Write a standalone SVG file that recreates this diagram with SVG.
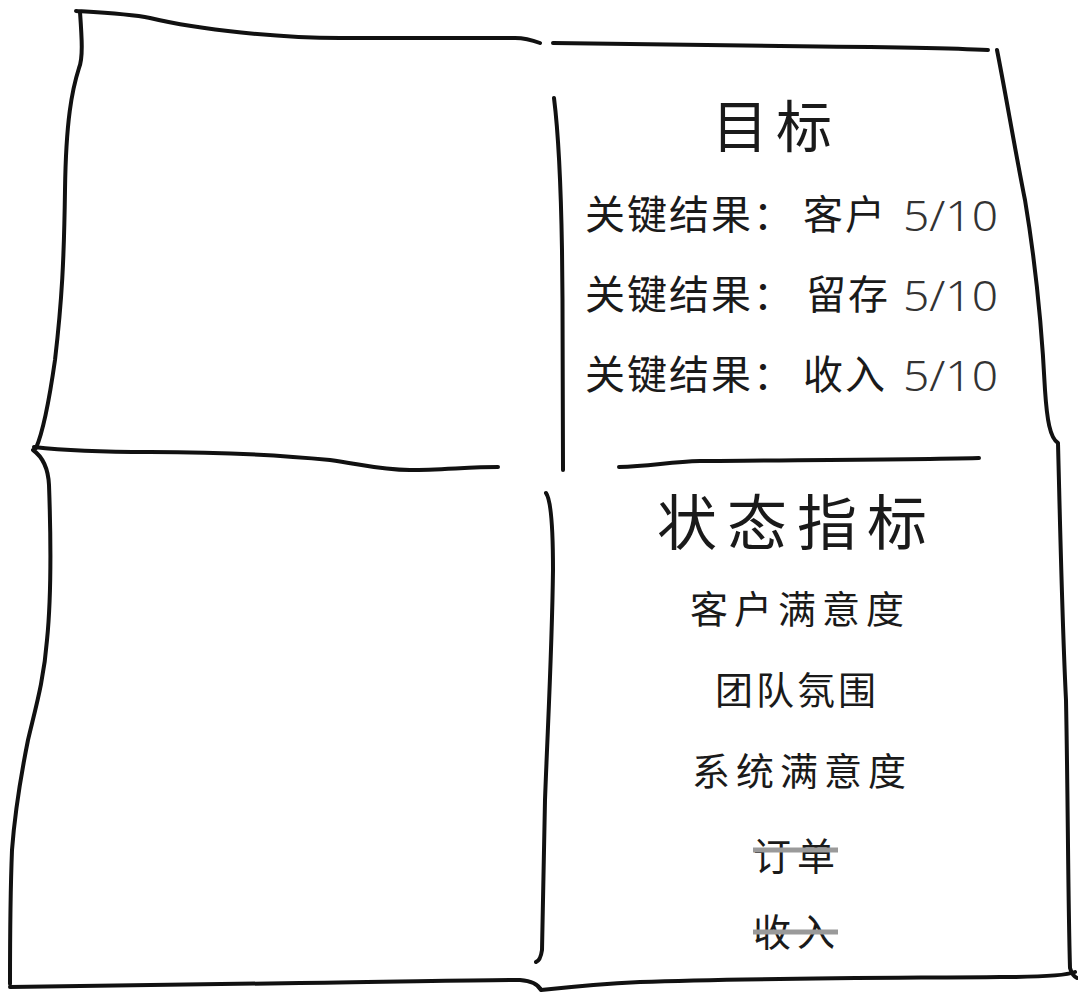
<svg xmlns="http://www.w3.org/2000/svg" width="1078" height="992" viewBox="0 0 1078 992">
<style>
.ln{fill:none;stroke:#111;stroke-width:4;stroke-linecap:round;stroke-linejoin:round}
.t{font-family:"Noto Sans CJK SC","Noto Sans",sans-serif;fill:#1a1a1a}
.k{font-size:40px;letter-spacing:2px}
.n{font-family:"Noto Sans","DejaVu Sans",sans-serif;font-weight:300;fill:#333}
.strike{stroke:#9a9a9a;stroke-width:5}
</style>
<rect width="1078" height="992" fill="#fff"/>
<g id="frame">
<path class="ln" d="M76,11 C110,13 130,14 150,18 C200,30 280,38 340,38 L515,38 C525,38 532,40 540,43"/>
<path class="ln" d="M553,43 L780,46 C880,47 950,48 988,50"/>
<path class="ln" d="M80,12 C82,40 83,58 79,68 C72,90 66,120 65,190 C64,260 62,300 55,360 C50,395 44,430 36,448"/>
<path class="ln" d="M33,450 C40,455 48,465 49,485 C51,540 51,600 47,640 C44,680 35,710 28,740 C20,780 15,810 12,850 C10,900 10,950 10,984"/>
<path class="ln" d="M997,50 C1005,90 1015,150 1025,200 C1035,260 1042,330 1045,390 C1047,420 1050,438 1058,443 C1060,520 1062,620 1066,700 C1068,800 1068,900 1070,968 C1072,975 1075,977 1077,978"/>
<path class="ln" d="M34,447 C60,450 90,452 150,452 C220,452 280,455 330,460 C360,464 380,470 410,470 C440,470 470,467 498,467"/>
<path class="ln" d="M619,467 C650,466 670,462 700,461 C780,460 900,460 979,458"/>
<path class="ln" d="M554,98 C558,130 561,190 562,250 C563,330 563,420 563,470"/>
<path class="ln" d="M546,493 C551,500 553,530 553,570 C552,650 548,720 545,800 C543,880 542,930 542,950 C541,957 539,961 536,962"/>
<path class="ln" d="M10,987 C100,986 200,984 300,983 C400,982 460,980 520,980 C532,981 538,984 541,990 C560,988 600,984 640,982 C750,978 900,978 1000,977 C1040,977 1065,976 1075,972"/>
</g>
<g id="quadrant-top-left"></g>
<g id="quadrant-bottom-left"></g>
<g id="okr-panel">
<text class="t" x="776" y="147" font-size="56" text-anchor="middle" letter-spacing="8">目标</text>
<text class="t k" x="585" y="229">关键结果：</text>
<text class="t k" x="803" y="229">客户</text>
<text class="n" x="903" y="231" font-size="42" textLength="95" lengthAdjust="spacingAndGlyphs">5/10</text>
<text class="t k" x="585" y="309">关键结果：</text>
<text class="t k" x="806" y="309">留存</text>
<text class="n" x="903" y="311" font-size="42" textLength="95" lengthAdjust="spacingAndGlyphs">5/10</text>
<text class="t k" x="585" y="389">关键结果：</text>
<text class="t k" x="803" y="389">收入</text>
<text class="n" x="903" y="391" font-size="42" textLength="95" lengthAdjust="spacingAndGlyphs">5/10</text>
</g>
<g id="health-panel">
<text class="t" x="657" y="545" font-size="60" letter-spacing="10">状态指标</text>
<text class="t" x="690" y="623" font-size="38" letter-spacing="6">客户满意度</text>
<text class="t" x="715" y="704" font-size="38" letter-spacing="3">团队氛围</text>
<text class="t" x="692" y="785" font-size="38" letter-spacing="6">系统满意度</text>
<text class="t" x="753" y="870" font-size="38" letter-spacing="6">订单</text>
<line class="strike" x1="753" y1="850" x2="838" y2="850"/>
<text class="t" x="753" y="946" font-size="38" letter-spacing="6">收入</text>
<line class="strike" x1="753" y1="932" x2="838" y2="932"/>
</g>
</svg>
